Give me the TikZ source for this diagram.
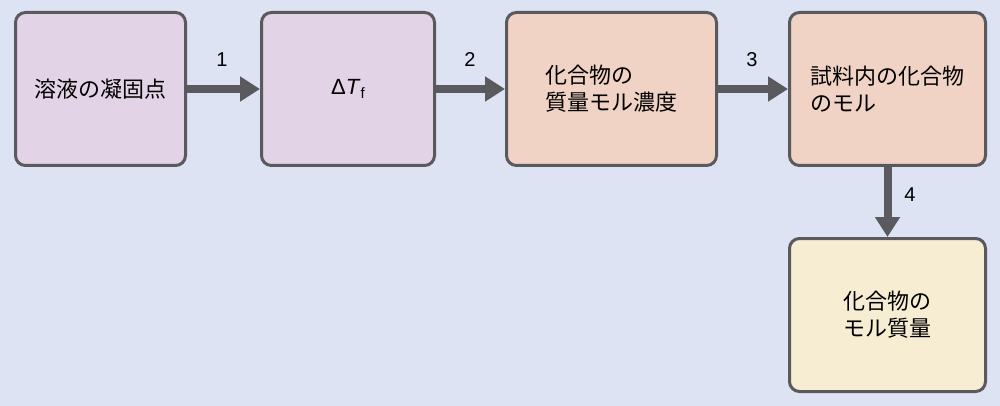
\documentclass[tikz,border=0pt]{standalone}
\usepackage{fontspec}
\setmainfont{Liberation Sans}
\newfontfamily\jpfont{Noto Sans CJK JP}
\usetikzlibrary{arrows.meta}
\definecolor{bgc}{RGB}{221,227,243}
\definecolor{purp}{RGB}{227,211,230}
\definecolor{peach}{RGB}{240,211,196}
\definecolor{cream}{RGB}{247,237,210}
\definecolor{edge}{RGB}{90,90,94}
\tikzset{
  box/.style={draw=edge, line width=3pt, rounded corners=10pt, minimum height=153pt,
    align=left, inner sep=0pt, font=\jpfont\fontsize{22pt}{27pt}\selectfont},
  conn/.style={draw=edge, line width=8pt, -{Triangle[length=20pt,width=24pt]}},
  num/.style={font=\fontsize{20pt}{24pt}\selectfont, text=black}
}
\begin{document}
\begin{tikzpicture}[x=1pt,y=-1pt]
\fill[bgc] (0,0) rectangle (1000,406);
\useasboundingbox (0,0) rectangle (1000,406);
\node[box, fill=purp, minimum width=170pt] (b1) at (100.5,89) {溶液の凝固点};
\node[box, fill=purp, minimum width=173pt] (b2) at (348,89) {\fontspec{Liberation Sans}\fontsize{22pt}{27pt}\selectfont Δ\textit{T}\raisebox{-0.35ex}{\fontsize{15pt}{18pt}\selectfont f}};
\node[box, fill=peach, minimum width=210pt] (b3) at (611.5,89) {化合物の\\質量モル濃度};
\node[box, fill=peach, minimum width=196pt] (b4) at (887.5,89) {試料内の化合物\\のモル};
\node[box, fill=cream, minimum width=196pt] (b5) at (887.5,315) {化合物の\\モル質量};
\draw[conn] (b1.east) -- (b2.west);
\draw[conn] (b2.east) -- (b3.west);
\draw[conn] (b3.east) -- (b4.west);
\draw[conn] (b4.south) -- (b5.north);
\node[num] (n1) at (222,60) {1};
\node[num] (n2) at (470,60) {2};
\node[num] (n3) at (752,60) {3};
\node[num] (n4) at (910,195) {4};
\end{tikzpicture}
\end{document}
